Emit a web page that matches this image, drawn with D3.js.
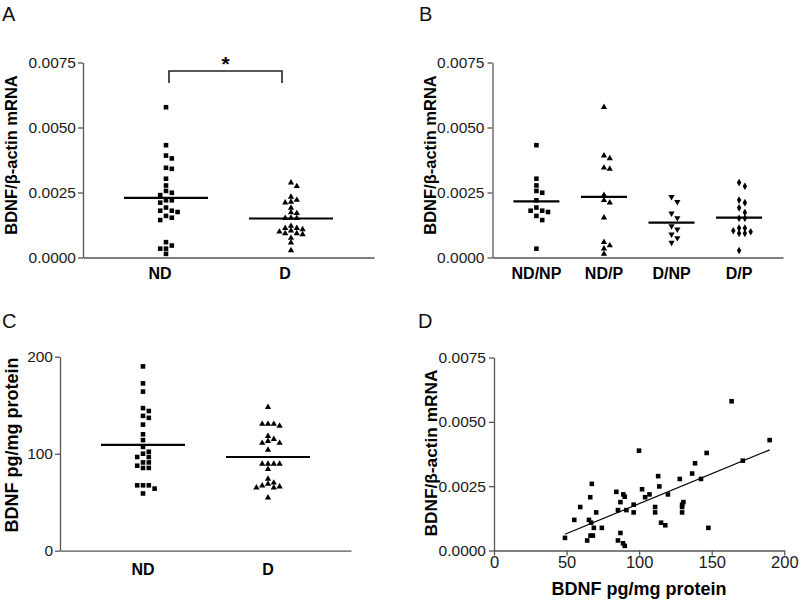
<!DOCTYPE html>
<html><head><meta charset="utf-8">
<script src="https://cdn.jsdelivr.net/npm/d3@7"></script>
<style>body{margin:0;background:#fff} svg{display:block}</style>
</head><body>
<svg id="chart" width="800" height="608"></svg>
<script>
// ---------- data ----------
const mrnaTicks = [0, 0.0025, 0.005, 0.0075];
const mrnaTickLabels = ["0.0000", "0.0025", "0.0050", "0.0075"];
const proteinTicksC = [0, 100, 200];
const proteinTicksD = [0, 50, 100, 150, 200];
const groupsA = ["ND", "D"];
const groupsB = ["ND/NP", "ND/P", "D/NP", "D/P"];
const groupsC = ["ND", "D"];

// Panel B: BDNF/beta-actin mRNA per subgroup
const mrnaNDNP = [0.00432, 0.00303, 0.00277, 0.00256, 0.00249, 0.00220, 0.00192, 0.00180, 0.00180, 0.00175, 0.00160, 0.00144, 0.00034];
const mrnaNDP  = [0.00578, 0.00392, 0.00381, 0.00345, 0.00341, 0.00240, 0.00220, 0.00211, 0.00153, 0.00059, 0.00046, 0.00034, 0.00014];
const mrnaDNP  = [0.00233, 0.00214, 0.00170, 0.00152, 0.00121, 0.00108, 0.00089, 0.00075, 0.00057];
const mrnaDP   = [0.00288, 0.00274, 0.00221, 0.00211, 0.00191, 0.00173, 0.00151, 0.00151, 0.00113, 0.00113, 0.00103, 0.00099, 0.00093, 0.00093, 0.00027];
const centerA = [0.00229, 0.00150];
const centerB = [0.00216, 0.00233, 0.00134, 0.00153];

// Panel C: BDNF protein (pg/mg)
const proteinND = [190, 172.5, 164, 147, 144, 139, 137, 130, 120, 114, 107, 102, 100, 96.6, 96.6, 91, 91, 87.6, 85.3, 85.3, 67.4, 67.4, 67.4, 64, 59];
const proteinD  = [148, 130.6, 130.6, 130.6, 128.6, 118, 115, 113, 111, 111, 104, 89.4, 89.4, 89.4, 89.4, 84, 74, 70, 68.8, 67, 66, 65, 65, 54.6];
const centerC = [109, 96.6];

// Panel D: protein (x) vs mRNA (y)
const corrProtein = [48.9, 55.3, 59.4, 64.2, 65.4, 66.9, 66.3, 67.4, 66.5, 68.1, 68.8, 70.4, 74.3, 84.3, 85.4, 85.4, 87.1, 87.1, 89.1, 90.1, 88.9, 90.1, 91.2, 96.2, 96.2, 99.9, 102, 104.1, 107.1, 111, 111, 113.1, 113.9, 115.1, 118, 119.8, 128, 129.6, 129.6, 129.6, 130.5, 136.5, 138.5, 142.6, 146.5, 147.7, 163.7, 171.4, 189.9];
const corrMrna    = [0.00049, 0.00119, 0.00169, 0.00039, 0.00119, 0.00108, 0.00207, 0.00259, 0.00058, 0.00058, 0.00088, 0.00148, 0.00088, 0.00228, 0.00157, 0.00039, 0.00188, 0.00068, 0.00218, 0.00209, 0.00028, 0.00018, 0.00157, 0.00178, 0.00148, 0.00388, 0.00238, 0.00207, 0.00218, 0.00169, 0.00148, 0.00289, 0.00249, 0.00108, 0.00098, 0.00218, 0.00278, 0.00178, 0.00169, 0.00148, 0.00188, 0.00299, 0.00339, 0.00278, 0.00379, 0.00088, 0.00580, 0.00349, 0.00429];

// ---------- drawing ----------
const FONT = "'Liberation Sans', Arial, Helvetica, sans-serif";
const svg = d3.select("#chart").style("font-family", FONT);
const AXIS = "#555", TXT = "#1a1a1a";

const mrnaFmt = v => mrnaTickLabels[mrnaTicks.indexOf(v)];

function styleAxis(g, fs) {
  g.selectAll(".domain").attr("stroke", AXIS).attr("stroke-width", 1.3);
  g.selectAll(".tick line").attr("stroke", AXIS).attr("stroke-width", 1.3);
  g.selectAll(".tick text").attr("fill", TXT).style("font-size", fs + "px").style("font-family", FONT);
}

function yAxis(y, ticks, fmt, x, pad, fs) {
  const g = svg.append("g").attr("transform", `translate(${x},0)`)
    .call(d3.axisLeft(y).tickValues(ticks).tickFormat(fmt).tickSizeInner(5).tickSizeOuter(0).tickPadding(pad));
  styleAxis(g, fs);
  return g;
}

function catAxis(xs, cats, y0, baseline, fs, shift) {
  const g = svg.append("g").attr("transform", `translate(0,${y0})`)
    .call(d3.axisBottom(xs).tickSize(0).tickFormat(""));
  styleAxis(g, fs);
  svg.append("g").selectAll("text").data(cats).join("text")
    .attr("x", d => xs(d) + (shift || 0)).attr("y", baseline)
    .attr("text-anchor", "middle").attr("font-weight", "bold")
    .style("font-size", fs + "px").attr("fill", "#000").text(d => d);
}

function yTitle(text, x, yc, fs) {
  svg.append("text").attr("transform", `translate(${x},${yc}) rotate(-90)`)
    .attr("text-anchor", "middle").attr("font-weight", "bold")
    .style("font-size", fs + "px").attr("fill", "#000").text(text);
}

function panelLetter(t, x, y) {
  svg.append("text").attr("x", x).attr("y", y).style("font-size", "20px").attr("fill", "#111").text(t);
}

// swarm layout: columns of width `sp`, points sorted by value
function swarm(values, cx, y, sp, minDy) {
  const pts = values.map(v => ({v, py: y(v)})).sort((a, b) => b.v - a.v);
  const placed = [];
  pts.forEach(p => {
    for (let k = 0; k < 30; k++) {
      const off = k === 0 ? 0 : (k % 2 === 1 ? Math.ceil(k / 2) : -Math.ceil(k / 2));
      const clash = placed.some(q => q.off === off && Math.abs(q.py - p.py) < minDy);
      if (!clash) { p.off = off; break; }
    }
    placed.push(p);
    p.px = cx + p.off * sp;
  });
  return pts;
}

const symSquare = d3.symbol().type(d3.symbolSquare).size(21);
const symTri = d3.symbol().type(d3.symbolTriangle).size(17);
const symDiamond = d3.symbol().type(d3.symbolDiamond).size(17);

function drawPoints(pts, sym, rot) {
  svg.append("g").selectAll("path").data(pts).join("path")
    .attr("d", sym)
    .attr("transform", d => `translate(${d.px},${d.py})` + (rot ? ` rotate(${rot})` : ""))
    .attr("fill", "#000");
}

function centerLines(xs, cats, vals, y, half) {
  svg.append("g").selectAll("line").data(cats).join("line")
    .attr("x1", (d) => xs(d) - half).attr("x2", d => xs(d) + half)
    .attr("y1", (d, i) => y(vals[i])).attr("y2", (d, i) => y(vals[i]))
    .attr("stroke", "#000").attr("stroke-width", 2.2);
}

// ===== Panel A =====
{
  const y = d3.scaleLinear().domain([0, 0.0075]).range([257.5, 62.5]);
  const x = d3.scalePoint().domain(groupsA).range([83, 374]).padding(0.664);
  yAxis(y, mrnaTicks, mrnaFmt, 83, 2, 15.5);
  catAxis(x, groupsA, 257.5, 279, 16, -6);
  yTitle("BDNF/β-actin mRNA", 17, 155, 16.5);
  panelLetter("A", 2, 21);
  const nd = mrnaNDNP.concat(mrnaNDP), dd = mrnaDNP.concat(mrnaDP);
  drawPoints(swarm(nd, x("ND"), y, 5.8, 5), symSquare);
  drawPoints(swarm(dd, x("D"), y, 5.8, 4.6), symTri);
  centerLines(x, groupsA, centerA, y, 42);
  // significance bracket
  const yb = 71, drop = 12;
  svg.append("path")
    .attr("d", `M${x("ND") + 3},${yb + drop}V${yb}H${x("D") - 9}V${yb + drop}`)
    .attr("fill", "none").attr("stroke", "#222").attr("stroke-width", 1.6);
  svg.append("text").attr("x", (x("ND") + 3 + x("D") - 9) / 2).attr("y", yb)
    .attr("text-anchor", "middle").attr("font-weight", "bold").style("font-size", "21px").text("*");
}

// ===== Panel B =====
{
  const y = d3.scaleLinear().domain([0, 0.0075]).range([257.5, 62.5]);
  const x = d3.scalePoint().domain(groupsB).range([492.5, 783]).padding(0.65);
  yAxis(y, mrnaTicks, mrnaFmt, 492.5, 3, 15.5);
  catAxis(x, groupsB, 257.5, 279, 16);
  yTitle("BDNF/β-actin mRNA", 436, 155, 16.5);
  panelLetter("B", 419, 21);
  drawPoints(swarm(mrnaNDNP, x("ND/NP"), y, 5.8, 5), symSquare);
  drawPoints(swarm(mrnaNDP, x("ND/P"), y, 5.8, 5), symTri);
  drawPoints(swarm(mrnaDNP, x("D/NP"), y, 5.8, 5), symTri, 180);
  drawPoints(swarm(mrnaDP, x("D/P"), y, 5.8, 5), symDiamond);
  centerLines(x, groupsB, centerB, y, 23);
}

// ===== Panel C =====
{
  const y = d3.scaleLinear().domain([0, 200]).range([550.7, 356.7]);
  const x = d3.scalePoint().domain(groupsC).range([60, 351]).padding(0.664);
  yAxis(y, proteinTicksC, d3.format("d"), 60, 2, 15.5);
  catAxis(x, groupsC, 550.7, 575, 16);
  yTitle("BDNF pg/mg protein", 18, 445, 18);
  panelLetter("C", 2, 328);
  drawPoints(swarm(proteinND, x("ND"), y, 5.8, 5), symSquare);
  drawPoints(swarm(proteinD, x("D"), y, 5.8, 4.6), symTri);
  centerLines(x, groupsC, centerC, y, 42);
}

// ===== Panel D =====
{
  const y = d3.scaleLinear().domain([0, 0.0075]).range([550.5, 357.5]);
  const x = d3.scaleLinear().domain([0, 200]).range([494, 784.3]);
  yAxis(y, mrnaTicks, mrnaFmt, 494, 3, 15.5);
  const gx = svg.append("g").attr("transform", "translate(0,550.5)")
    .call(d3.axisBottom(x).tickValues(proteinTicksD).tickFormat(d3.format("d")).tickSizeInner(5).tickSizeOuter(0).tickPadding(1));
  styleAxis(gx, 16.5);
  yTitle("BDNF/β-actin mRNA", 437, 453, 17.3);
  svg.append("text").attr("x", 639).attr("y", 595).attr("text-anchor", "middle")
    .attr("font-weight", "bold").style("font-size", "18px").text("BDNF pg/mg protein");
  panelLetter("D", 418, 328);
  // least-squares fit through the points
  const n = corrProtein.length;
  const mx = d3.mean(corrProtein), my = d3.mean(corrMrna);
  let sxy = 0, sxx = 0;
  for (let i = 0; i < n; i++) { sxy += (corrProtein[i] - mx) * (corrMrna[i] - my); sxx += (corrProtein[i] - mx) ** 2; }
  const slope = sxy / sxx, icpt = my - slope * mx;
  const [x0, x1] = d3.extent(corrProtein);
  svg.append("line").attr("x1", x(x0)).attr("x2", x(x1))
    .attr("y1", y(icpt + slope * x0)).attr("y2", y(icpt + slope * x1))
    .attr("stroke", "#000").attr("stroke-width", 1.2);
  svg.append("g").selectAll("path").data(corrProtein).join("path")
    .attr("d", symSquare)
    .attr("transform", (d, i) => `translate(${x(d)},${y(corrMrna[i])})`)
    .attr("fill", "#000");
}
</script>
</body></html>
